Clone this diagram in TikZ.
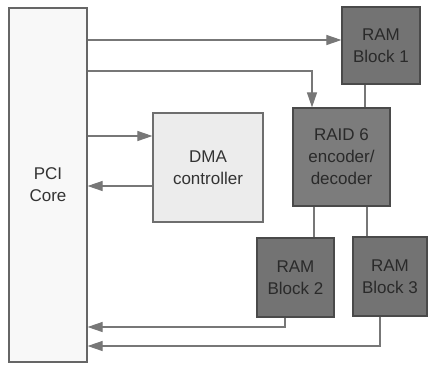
\documentclass[tikz,border=0pt]{standalone}
\usepackage{fontspec}
\setmainfont{Liberation Sans}
\usetikzlibrary{arrows.meta}
\definecolor{darkfill}{HTML}{737373}
\definecolor{raidfill}{HTML}{7C7C7C}
\definecolor{darkedge}{HTML}{4A4A4A}
\definecolor{darktext}{HTML}{2A2A2A}
\definecolor{lightfill}{HTML}{ECECEC}
\definecolor{corefill}{HTML}{F8F8F8}
\definecolor{wire}{HTML}{777777}
\tikzset{
  block/.style={draw, line width=1.2pt, align=center, inner sep=0pt,
    font=\fontsize{17}{22}\selectfont},
  ramblock/.style={block, draw=darkedge, fill=darkfill, text=darktext},
  lightblock/.style={block, draw=darkedge!80, fill=lightfill, text=black!80},
  coreblock/.style={block, draw=black!60, fill=corefill, text=black!80},
  wirepath/.style={draw=wire, line width=1.1pt},
  arrowpath/.style={wirepath, -{Triangle[length=15pt,width=10pt]}}
}
\begin{document}
\begin{tikzpicture}[x=1pt,y=-1pt]
\useasboundingbox (0,0) rectangle (428,365);
\fill[white] (0,0) rectangle (428,365);

% blocks
\node[coreblock, minimum width=78pt, minimum height=354pt] (pci) at (48,185) {PCI\\Core};
\node[ramblock, minimum width=78pt, minimum height=77pt] (ram1) at (381,45.5) {RAM\\Block 1};
\node[ramblock, fill=raidfill, minimum width=97pt, minimum height=98pt] (raid) at (341.5,157) {RAID 6\\encoder/\\decoder};
\node[lightblock, minimum width=110pt, minimum height=109pt] (dma) at (208,167.5) {DMA\\controller};
\node[ramblock, minimum width=77pt, minimum height=79pt] (ram2) at (295.5,277.5) {RAM\\Block 2};
\node[ramblock, minimum width=74pt, minimum height=79pt] (ram3) at (390,276.5) {RAM\\Block 3};

% connections from the PCI core
\draw[arrowpath] (pci.east |- 0,40) -- (ram1.west |- 0,40);
\draw[arrowpath] (pci.east |- 0,71) -| (raid.north -| 312,0);
\draw[arrowpath] (pci.east |- 0,136) -- (dma.west |- 0,136);
\draw[arrowpath] (dma.west |- 0,186) -- (pci.east |- 0,186);

% RAID links to the RAM blocks
\draw[wirepath] (ram1.south -| 365,0) -- (raid.north -| 365,0);
\draw[wirepath] (raid.south -| 314,0) -- (ram2.north -| 314,0);
\draw[wirepath] (raid.south -| 367,0) -- (ram3.north -| 367,0);

% RAM blocks back to the PCI core
\draw[arrowpath] (ram2.south -| 285,0) |- (pci.east |- 0,327);
\draw[arrowpath] (ram3.south -| 380,0) |- (pci.east |- 0,346);
\end{tikzpicture}
\end{document}
